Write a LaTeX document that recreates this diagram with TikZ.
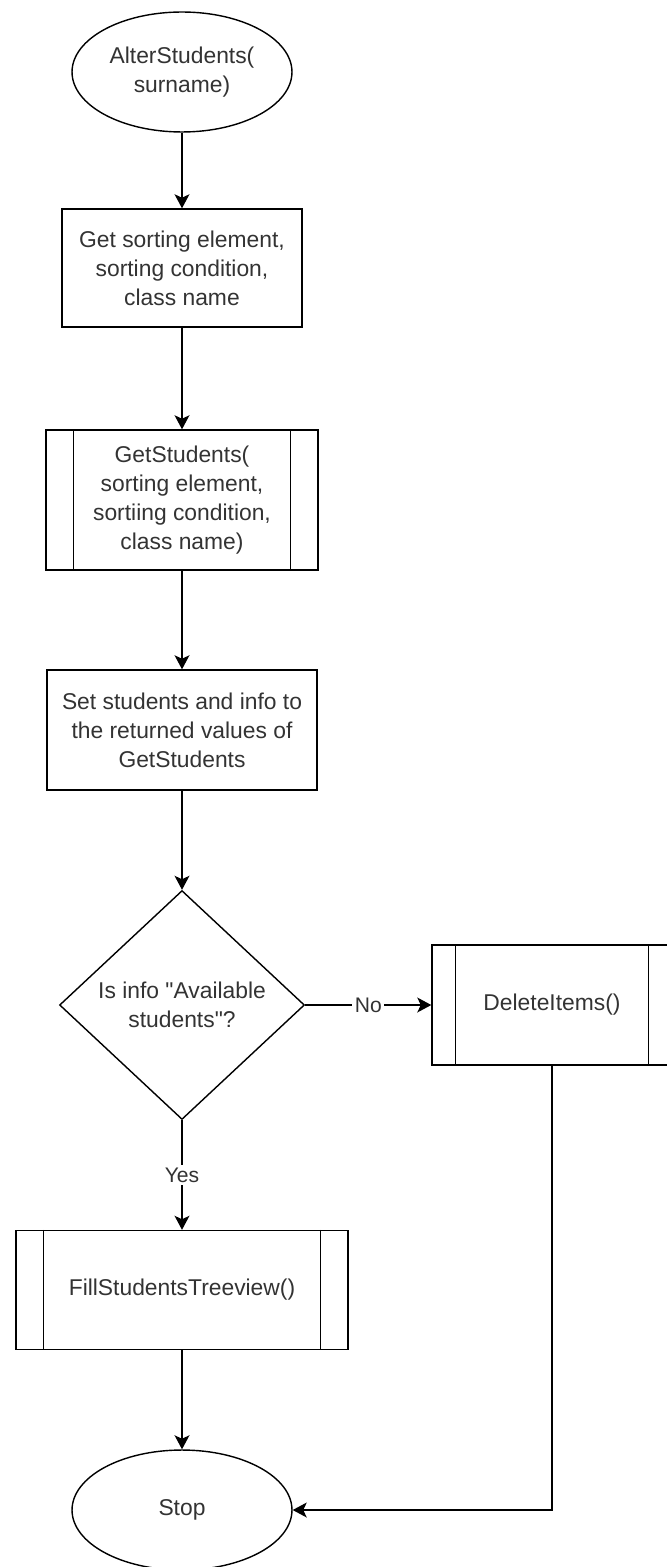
\documentclass[tikz,border=0pt]{standalone}
\usepackage{fontspec}
\setmainfont{Liberation Sans}
\usetikzlibrary{arrows.meta,shapes.geometric,positioning,calc}
\newcommand{\strq}{\XeTeXglyph\the\XeTeXcharglyph"22\relax}

\tikzset{
  base/.style={draw, line width=0.8pt, align=center, text=black!80, inner sep=0pt,
    font=\fontsize{13}{16.5}\selectfont},
  term/.style={base, ellipse, minimum width=4.4cm, minimum height=2.4cm},
  proc/.style={base, rectangle, minimum height=2.4cm},
  subproc/.style={proc},
  decide/.style={base, diamond, minimum width=4.9cm, minimum height=4.58cm},
  flow/.style={line width=0.8pt, -{Stealth[length=8pt,width=8.5pt,inset=2pt]}},
  lbl/.style={fill=white, inner sep=1.5pt, text=black!80, font=\fontsize{12}{14}\selectfont}
}

\begin{document}
\begin{tikzpicture}[x=0.02cm, y=-0.02cm]
\useasboundingbox (0,0) rectangle (666,1567);

\node[term] (start) at (182,72) {AlterStudents(\\surname)};
\node[proc, minimum width=4.8cm, minimum height=2.36cm] (get) at (182,268) {Get sorting element,\\sorting condition,\\class name};
\node[subproc, minimum width=5.44cm, minimum height=2.8cm] (call) at (182,500) {GetStudents(\\sorting element,\\sortiing condition,\\class name)};
\node[proc, minimum width=5.4cm] (set) at (182,730) {Set students and info to\\the returned values of\\GetStudents};
\node[decide] (dec) at (182,1005) {Is info \strq Available\\students\strq?};
\node[subproc, minimum width=4.8cm] (del) at (552,1005) {DeleteItems()};
\node[subproc, minimum width=6.64cm, minimum height=2.38cm] (fill) at (182,1290) {FillStudentsTreeview()};
\node[term] (stop) at (182,1510) {Stop};
\coordinate (K) at (552,1510);

% inner side lines of the subprocess boxes
\foreach \n/\d in {call/0.56cm, del/0.48cm, fill/0.56cm}{
  \draw[line width=0.8pt] ([xshift=\d]\n.north west) -- ([xshift=\d]\n.south west);
  \draw[line width=0.8pt] ([xshift=-\d]\n.north east) -- ([xshift=-\d]\n.south east);
}

\draw[flow] (start) -- (get);
\draw[flow] (get) -- (call);
\draw[flow] (call) -- (set);
\draw[flow] (set) -- (dec);
\draw[flow] (dec.east) -- node[lbl] {No} (del.west);
\draw[flow] (dec.south) -- node[lbl] {Yes} (fill.north);
\draw[flow] (fill) -- (stop);
\draw[flow] (del.south) -- (K) -- (stop.east);
\end{tikzpicture}
\end{document}
